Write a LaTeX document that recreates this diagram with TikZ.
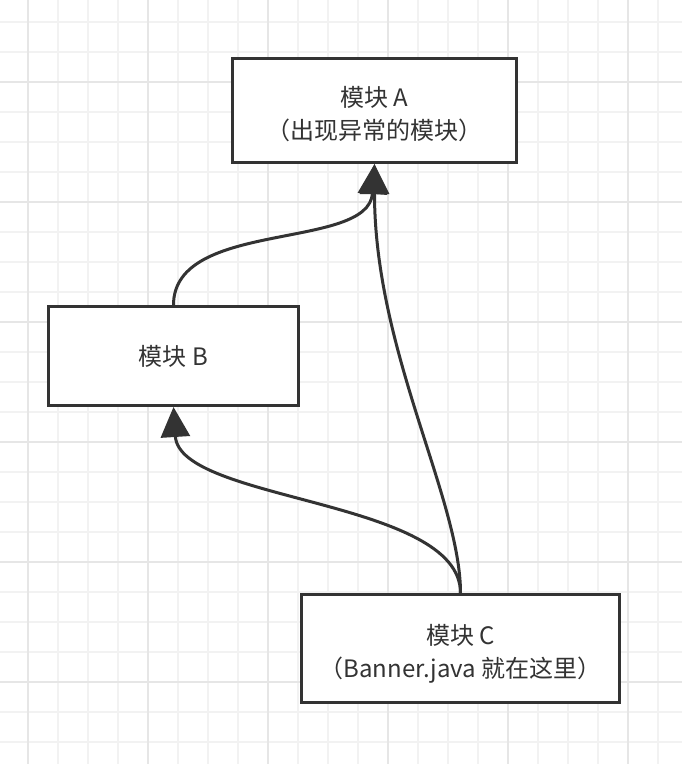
\documentclass[tikz,border=0pt]{standalone}
\usepackage{fontspec}
\setmainfont{Noto Sans CJK SC}
\usetikzlibrary{arrows.meta}
\definecolor{ink}{HTML}{333333}
\definecolor{gridminor}{HTML}{F2F2F2}
\definecolor{gridmajor}{HTML}{E6E6E6}
\tikzset{
  modbox/.style={draw=ink, line width=3pt, fill=white, rectangle, inner sep=0pt},
  modtext/.style={text=ink, align=center, inner sep=0pt, font=\fontsize{24}{33}\selectfont},
  arr/.style={draw=ink, line width=3pt, -{Triangle[length=30pt,width=29pt]}},
  minorline/.style={draw=gridminor, line width=1.2pt},
  majorline/.style={draw=gridmajor, line width=1.6pt}
}
\begin{document}
\begin{tikzpicture}[x=1pt,y=-1pt]
\useasboundingbox (0,0) rectangle (682,764);
\fill[white] (0,0) rectangle (682,764);
% grid
\foreach \k in {1,...,23} {
  \pgfmathsetmacro{\gx}{-2+30*\k}
  \draw[minorline] (\gx,0) -- (\gx,764);
}
\foreach \k in {0,...,24} {
  \pgfmathsetmacro{\gy}{22+30*\k}
  \draw[minorline] (0,\gy) -- (682,\gy);
}
\foreach \gx in {28,148,268,388,508,628} \draw[majorline] (\gx,0) -- (\gx,764);
\foreach \gy in {82,202,322,442,562,682} \draw[majorline] (0,\gy) -- (682,\gy);
% nodes
\node[modbox, minimum width=284pt, minimum height=104pt] (A) at (374.5,110.5) {};
\node[modtext] (At) at ([yshift=-4pt]A.center) {模块 A\\（出现异常的模块）};
\node[modbox, minimum width=250pt, minimum height=99pt] (B) at (173.5,356) {};
\node[modtext] (Bt) at (B.center) {模块 B};
\node[modbox, minimum width=318pt, minimum height=108pt] (C) at (460.5,648.5) {};
\node[modtext] (Ct) at ([yshift=-5pt]C.center) {模块 C\\（Banner.java 就在这里）};
% connectors
\draw[arr] (B.north) .. controls +(0,-86) and +(-6,87) .. (A.south);
\draw[arr] (C.north) .. controls +(0,-94) and +(0,187) .. (A.south);
\draw[arr] (C.north) .. controls +(0,-94) and +(6,95) .. (B.south);
\end{tikzpicture}
\end{document}
